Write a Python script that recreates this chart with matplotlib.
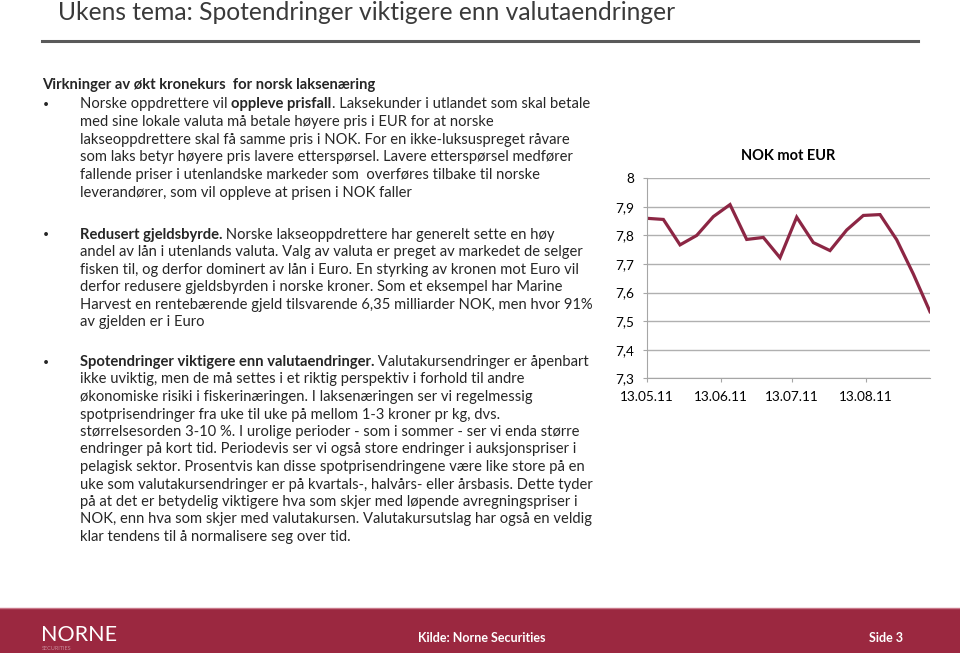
import matplotlib
matplotlib.use("Agg")
import matplotlib.pyplot as plt
import matplotlib.dates as mdates
from matplotlib.patches import Rectangle
from datetime import date, timedelta

W, H = 960, 653
FONT = "Lato"

# chart data: NOK per EUR, weekly from 13.05.11
dates = [date(2011, 5, 13) + timedelta(days=7 * i) for i in range(18)]
nok_eur = [7.860, 7.856, 7.767, 7.800, 7.866, 7.908, 7.786, 7.793, 7.722,
           7.864, 7.775, 7.747, 7.819, 7.870, 7.873, 7.785, 7.665, 7.533]
yticks = [7.3, 7.4, 7.5, 7.6, 7.7, 7.8, 7.9, 8.0]
xtick_dates = [date(2011, 5, 13), date(2011, 6, 13), date(2011, 7, 13), date(2011, 8, 13)]

title = "Ukens tema: Spotendringer viktigere enn valutaendringer"
heading = "Virkninger av økt kronekurs  for norsk laksenæring"
bullet1 = [
    [("Norske oppdrettere vil ", False), ("oppleve prisfall", True), (". Laksekunder i utlandet som skal betale", False)],
    [("med sine lokale valuta må betale høyere pris i EUR for at norske", False)],
    [("lakseoppdrettere skal få samme pris i NOK. For en ikke-luksuspreget råvare", False)],
    [("som laks betyr høyere pris lavere etterspørsel. Lavere etterspørsel medfører", False)],
    [("fallende priser i utenlandske markeder som  overføres tilbake til norske", False)],
    [("leverandører, som vil oppleve at prisen i NOK faller", False)],
]
bullet2 = [
    [("Redusert gjeldsbyrde.", True), (" Norske lakseoppdrettere har generelt sette en høy", False)],
    [("andel av lån i utenlands valuta. Valg av valuta er preget av markedet de selger", False)],
    [("fisken til, og derfor dominert av lån i Euro. En styrking av kronen mot Euro vil", False)],
    [("derfor redusere gjeldsbyrden i norske kroner. Som et eksempel har Marine", False)],
    [("Harvest en rentebærende gjeld tilsvarende 6,35 milliarder NOK, men hvor 91%", False)],
    [("av gjelden er i Euro", False)],
]
bullet3 = [
    [("Spotendringer viktigere enn valutaendringer.", True), (" Valutakursendringer er åpenbart", False)],
    [("ikke uviktig, men de må settes i et riktig perspektiv i forhold til andre", False)],
    [("økonomiske risiki i fiskerinæringen. I laksenæringen ser vi regelmessig", False)],
    [("spotprisendringer fra uke til uke på mellom 1-3 kroner pr kg, dvs.", False)],
    [("størrelsesorden 3-10 %. I urolige perioder - som i sommer - ser vi enda større", False)],
    [("endringer på kort tid. Periodevis ser vi også store endringer i auksjonspriser i", False)],
    [("pelagisk sektor. Prosentvis kan disse spotprisendringene være like store på en", False)],
    [("uke som valutakursendringer er på kvartals-, halvårs- eller årsbasis. Dette tyder", False)],
    [("på at det er betydelig viktigere hva som skjer med løpende avregningspriser i", False)],
    [("NOK, enn hva som skjer med valutakursen. Valutakursutslag har også en veldig", False)],
    [("klar tendens til å normalisere seg over tid.", False)],
]

fig = plt.figure(figsize=(W / 100, H / 100), dpi=100)
renderer = fig.canvas.get_renderer()
TXT = "#262626"
SIZE = 10.6


def px(x, y):
    return x / W, 1 - y / H


def rich_line(x, y, runs):
    for txt, bold in runs:
        t = fig.text(*px(x, y), txt, fontsize=SIZE, family=FONT, color=TXT,
                     weight="bold" if bold else "normal", va="center", ha="left")
        x += t.get_window_extent(renderer).width


def block(y0, step, lines):
    fig.text(*px(46, y0), "•", fontsize=7.5, family=FONT, color=TXT, va="center", ha="center")
    for i, runs in enumerate(lines):
        rich_line(80, y0 + i * step, runs)


# title and rule
fig.text(*px(58, 13), title, fontsize=17.7, family=FONT, color="#3a3a3a", va="center")
fig.add_artist(plt.Line2D([42 / W, 918 / W], [1 - 41 / H] * 2, color="#5a5a5a", lw=2.2))

fig.text(*px(42, 85), heading, fontsize=SIZE, family=FONT, weight="bold", color=TXT, va="center")
block(104, 17.8, bullet1)
block(235, 17.4, bullet2)
block(362, 17.5, bullet3)

# footer
fig.add_artist(Rectangle((0, 0), 1, 1 - 608 / H, transform=fig.transFigure, color="#9b2840", lw=0))
fig.add_artist(plt.Line2D([0, 1], [1 - 607.5 / H] * 2, color="#c9788a", lw=1))
fig.text(*px(41, 635), "NORNE", fontsize=15.5, family=FONT, color="white", va="center")
fig.text(*px(42, 648.5), "SECURITIES", fontsize=4, family=FONT, color="#c98a98", va="center")
fig.text(*px(418, 638), "Kilde: Norne Securities", fontsize=9, family=FONT, weight="bold", color="white", va="center")
fig.text(*px(869, 638), "Side 3", fontsize=9, family=FONT, weight="bold", color="white", va="center")

# chart
ax = fig.add_axes([646.7 / W, 1 - 378.3 / H, (930 - 646.7) / W, 200 / H])
ax.plot(dates, nok_eur, color="#8c2644", lw=2.3, solid_joinstyle="miter")
ax.set_ylim(7.3, 8.0)
ax.set_xlim(dates[0], dates[-1])
ax.set_yticks(yticks)
ax.set_yticklabels([("%g" % v).replace(".", ",") for v in yticks])
ax.set_xticks(xtick_dates)
ax.xaxis.set_major_formatter(mdates.DateFormatter("%d.%m.%y"))
ax.grid(axis="y", color="#b0b0b0", lw=1)
ax.set_axisbelow(True)
for s in ["top", "right"]:
    ax.spines[s].set_visible(False)
for s in ["left", "bottom"]:
    ax.spines[s].set_color("#a6a6a6")
ax.tick_params(colors="#a6a6a6", length=3, labelcolor="black", labelsize=9.8, pad=6)
for lab in ax.get_xticklabels() + ax.get_yticklabels():
    lab.set_family(FONT)
ax.set_title("NOK mot EUR", fontsize=10.5, family=FONT, weight="bold", pad=13.5)

fig.savefig("out.png", dpi=100)
